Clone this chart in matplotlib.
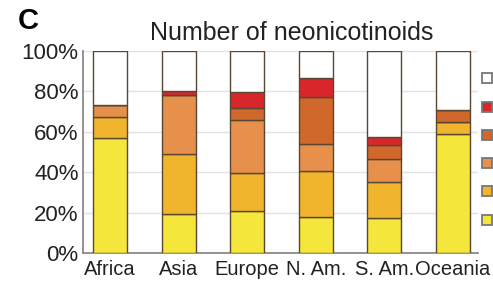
import matplotlib.pyplot as plt
from matplotlib.lines import Line2D
import numpy as np

plt.rcParams['font.family'] = ['Liberation Sans', 'DejaVu Sans']

# share of samples (%) by number of neonicotinoids detected
regions = ["Africa", "Asia", "Europe", "N. Am.", "S. Am.", "Oceania"]
one = [56.7, 19.3, 20.7, 18.0, 17.4, 58.7]
two = [10.7, 29.6, 19.0, 22.7, 17.8, 5.9]
three = [5.6, 29.1, 25.9, 13.4, 11.2, 0.0]
four = [0.0, 0.0, 6.2, 23.1, 7.0, 5.9]
five = [0.0, 2.3, 7.7, 9.2, 3.8, 0.0]
zero = [100 - a - b - c - d - e for a, b, c, d, e in zip(one, two, three, four, five)]

series = [one, two, three, four, five, zero]
colors = ["#f4e63a", "#f0b52c", "#e6904c", "#d0672b", "#d9262b", "#ffffff"]
legend_labels = ["0", "5", "4", "3", "2", "1"]
legend_colors = ["#ffffff", "#d9262b", "#d0672b", "#e6904c", "#f0b52c", "#f4e63a"]

fig = plt.figure(figsize=(4.93, 2.86), dpi=100)
ax = fig.add_axes([0.168, 0.114, 0.802, 0.709])

x = np.arange(len(regions))
bottom = np.zeros(len(regions))
for vals, col in zip(series, colors):
    ax.bar(x, vals, width=0.5, bottom=bottom, color=col, edgecolor="#5a4632",
           linewidth=1.0, zorder=3)
    bottom += np.array(vals)

ax.set_ylim(0, 100)
ax.set_xlim(-0.4, 5.37)
ax.set_yticks([0, 20, 40, 60, 80, 100])
ax.set_yticklabels([f"{v}%" for v in [0, 20, 40, 60, 80, 100]])
ax.set_xticks(x)
ax.set_xticklabels(regions)
ax.tick_params(axis="y", length=0, pad=3, labelsize=16, labelcolor="#222222")
ax.tick_params(axis="x", length=0, pad=5, labelsize=14.5, labelcolor="#222222")
ax.yaxis.grid(True, color="#e2e2e2", linewidth=1.0, zorder=0)
for s in ["top", "right"]:
    ax.spines[s].set_visible(False)
for s in ["left", "bottom"]:
    ax.spines[s].set_color("#8a8a8a")
    ax.spines[s].set_linewidth(1.3)

fig.text(0.592, 0.842, "Number of neonicotinoids", fontsize=18, color="#222222",
         ha="center", va="bottom")
fig.text(0.035, 0.975, "C", fontsize=21, fontweight="bold", va="top", ha="left",
         family=["Liberation Sans Narrow", "Liberation Sans"])

handles = [Line2D([], [], marker="s", linestyle="none", markersize=6.5,
                  markerfacecolor=c, markeredgecolor="#777777", markeredgewidth=1.3)
           for c in legend_colors]
fig.legend(handles, legend_labels, loc="center left", bbox_to_anchor=(0.976, 0.472),
           frameon=False, fontsize=14, handlelength=0.6, borderpad=0,
           borderaxespad=0, labelspacing=0.55, handletextpad=0.9)

fig.savefig("out.png", dpi=100)
